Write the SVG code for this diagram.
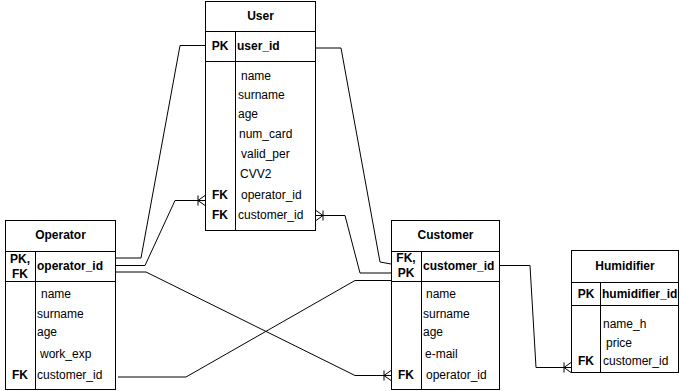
<svg xmlns="http://www.w3.org/2000/svg" width="681" height="391" viewBox="0 0 681 391">
  <style>
    .box { fill: #ffffff; stroke: #000000; stroke-width: 1; }
    .sep { stroke: #000000; stroke-width: 1; fill: none; }
    text { font-family: "Liberation Sans", Arial, Helvetica, sans-serif; font-size: 12px; fill: #000000; }
    .title { font-weight: bold; text-anchor: middle; }
    .key { font-weight: bold; text-anchor: middle; }
    .pk { font-weight: bold; }
    .edge { fill: none; stroke: #000000; stroke-width: 1; }
  </style>
  <defs>
    <!-- crow's foot with bar: "one or many" end of a relation -->
    <marker id="many" viewBox="0 -6 12 12" markerWidth="12" markerHeight="12" refX="12" refY="0" markerUnits="userSpaceOnUse" orient="auto-start-reverse">
      <path d="M12,-5 L5,0 L12,5 M5,0 L12,0 M5,-5 L5,5" fill="none" stroke="#000000" stroke-width="1"/>
    </marker>
  </defs>
  <rect width="681" height="391" fill="#ffffff"/>

  <!-- relations -->
  <g id="connectors">
    <path class="edge" d="M205,45.5 L180,45.5 L141,258 L116,258"/>
    <path class="edge" d="M116,265.5 L145,265.5 L175,200.5 L205,200.5" marker-end="url(#many)"/>
    <path class="edge" d="M116,272 L146,272 L355,375.5 L391,375.5" marker-end="url(#many)"/>
    <path class="edge" d="M118,377 L186,377 L355,280.5 L391,280.5"/>
    <path class="edge" d="M316,48 L341,48 L380,262 L391,264"/>
    <path class="edge" d="M316,215.5 L345,215.5 L360,273 L391,273" marker-start="url(#many)"/>
    <path class="edge" d="M500,265.5 L530,265.5 L536,367.5 L571,367.5" marker-end="url(#many)"/>
  </g>

  <!-- User -->
  <g id="user">
    <rect class="box" x="205.5" y="1.5" width="110" height="229"/>
    <path class="sep" d="M205.5,31.5 H315.5 M205.5,61.5 H315.5 M235.5,31.5 V230.5"/>
    <text class="title" x="260.5" y="20">User</text>
    <text class="key" x="220" y="50">PK</text>
    <text class="pk" x="237" y="50">user_id</text>
    <text x="241" y="80">name</text>
    <text x="238" y="99">surname</text>
    <text x="238" y="118">age</text>
    <text x="239" y="138">num_card</text>
    <text x="241" y="158">valid_per</text>
    <text x="240" y="178">CVV2</text>
    <text class="key" x="220" y="198.5">FK</text>
    <text x="241" y="198.5">operator_id</text>
    <text class="key" x="220" y="218.5">FK</text>
    <text x="238" y="218.5">customer_id</text>
  </g>

  <!-- Operator -->
  <g id="operator">
    <rect class="box" x="5.5" y="220.5" width="110" height="169"/>
    <path class="sep" d="M5.5,251.5 H115.5 M5.5,281.5 H115.5 M35.5,251.5 V389.5"/>
    <text class="title" x="60.5" y="239">Operator</text>
    <text class="key" x="20" y="263">PK,</text>
    <text class="key" x="20" y="278">FK</text>
    <text class="pk" x="37" y="270">operator_id</text>
    <text x="41" y="298">name</text>
    <text x="37" y="318">surname</text>
    <text x="37" y="336">age</text>
    <text x="40" y="358">work_exp</text>
    <text class="key" x="20" y="379">FK</text>
    <text x="37" y="379">customer_id</text>
  </g>

  <!-- Customer -->
  <g id="customer">
    <rect class="box" x="391.5" y="220.5" width="108" height="169"/>
    <path class="sep" d="M391.5,251.5 H499.5 M391.5,281.5 H499.5 M421.5,251.5 V389.5"/>
    <text class="title" x="445.5" y="239">Customer</text>
    <text class="key" x="406" y="262">FK,</text>
    <text class="key" x="406" y="277">PK</text>
    <text class="pk" x="423" y="270">customer_id</text>
    <text x="426" y="298">name</text>
    <text x="423" y="318">surname</text>
    <text x="423" y="336">age</text>
    <text x="425" y="358">e-mail</text>
    <text class="key" x="406" y="379">FK</text>
    <text x="426" y="379">operator_id</text>
  </g>

  <!-- Humidifier -->
  <g id="humidifier">
    <rect class="box" x="571.5" y="250.5" width="107" height="122"/>
    <path class="sep" d="M571.5,282.5 H678.5 M571.5,305.5 H678.5 M600.5,282.5 V372.5"/>
    <text class="title" x="625" y="270">Humidifier</text>
    <text class="key" x="586" y="298">PK</text>
    <text class="pk" x="602" y="298">humidifier_id</text>
    <text x="603" y="328">name_h</text>
    <text x="606" y="347">price</text>
    <text class="key" x="586" y="365">FK</text>
    <text x="603" y="365">customer_id</text>
  </g>
</svg>
